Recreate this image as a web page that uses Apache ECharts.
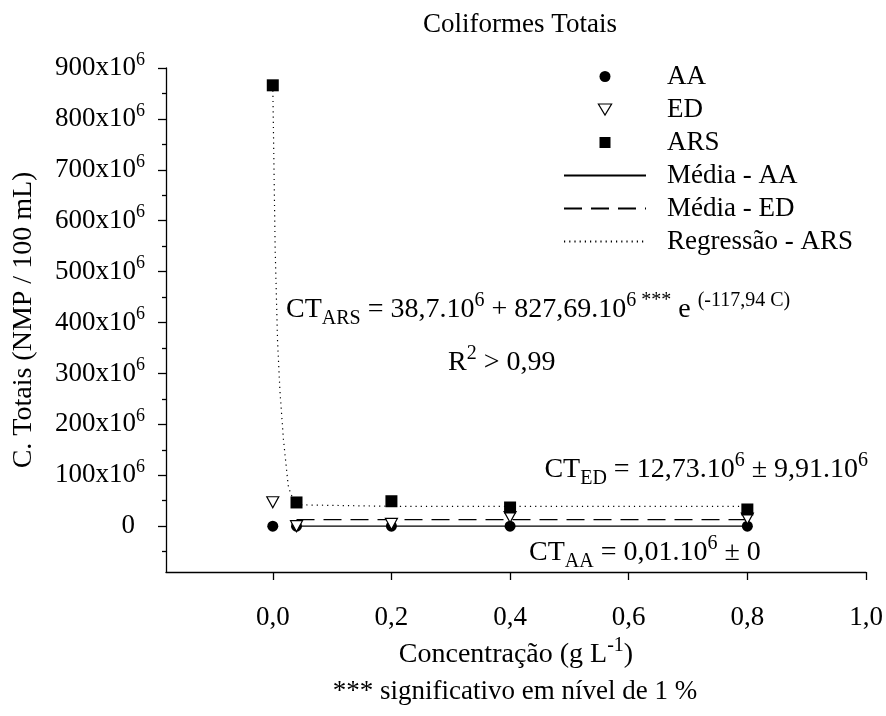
<!DOCTYPE html>
<html>
<head>
<meta charset="utf-8">
<script src="https://cdn.jsdelivr.net/npm/echarts@6/dist/echarts.min.js"></script>
<style>
  html, body { margin: 0; padding: 0; background: #fff; }
  #chart { width: 886px; height: 716px; }
</style>
</head>
<body>
<div id="chart"></div>
<script>
const FONT = '"Liberation Serif", "Times New Roman", serif'

// concentração (g L-1) and counts in 10^6 NMP / 100 mL
const conc = [0, 0.04, 0.2, 0.4, 0.8]
const aa = [0.01, 0.01, 0.01, 0.01, 0.01]
const ed = [47, 0, 4.5, 18, 15]
const ars = [866, 46.6, 49, 36.7, 32.8]

const meanX = [0.04, 0.8]
const meanAA = [0.01, 0.01]
const meanED = [12.73, 12.73]

// regression curve
const regX = [0, 0.004, 0.008, 0.012, 0.018, 0.026, 0.03, 0.04, 0.2, 0.4, 0.8]
const regARS = [866, 545, 365, 267, 170, 80, 64, 42, 39, 39, 39]

const xTicks = [0, 0.2, 0.4, 0.6, 0.8, 1.0]
const yTicks = [0, 100, 200, 300, 400, 500, 600, 700, 800, 900]
const yMinorTicks = [-50, 50, 150, 250, 350, 450, 550, 650, 750, 850]

const pairs = (xs, ys) => xs.map((x, i) => [x, ys[i]])

const rich = {
  m: { fontFamily: FONT, fontSize: 28, lineHeight: 38, verticalAlign: 'middle', color: '#000' },
  t: { fontFamily: FONT, fontSize: 20, lineHeight: 20, verticalAlign: 'top', color: '#000' },
  b: { fontFamily: FONT, fontSize: 20, lineHeight: 20, verticalAlign: 'bottom', color: '#000' }
}

const chart = echarts.init(document.getElementById('chart'))

const lineBase = { color: '#000', width: 1.3 }
const noIcon = { color: 'rgba(0,0,0,0)', borderColor: 'rgba(0,0,0,0)', borderWidth: 0 }

function note(text, x, y, align) {
  return {
    type: 'text',
    x: x,
    y: y,
    z: 10,
    style: {
      text: text,
      rich: rich,
      fill: '#000',
      font: '28px ' + FONT,
      align: align,
      verticalAlign: 'middle'
    }
  }
}

const option = {
  animation: false,
  backgroundColor: '#fff',
  title: {
    text: 'Coliformes Totais',
    left: 515,
    top: 6,
    textAlign: 'center',
    textStyle: { fontFamily: FONT, fontSize: 27, fontWeight: 'normal', color: '#000' }
  },
  legend: {
    orient: 'vertical',
    left: 563,
    top: 63,
    padding: 0,
    itemWidth: 82,
    itemHeight: 11,
    itemGap: 6,
    symbolKeepAspect: true,
    textStyle: { fontFamily: FONT, fontSize: 27, color: '#000', lineHeight: 26, padding: [0, 0, 0, 16] },
    data: [
      { name: 'AA', icon: 'circle', itemStyle: { color: '#000', opacity: 1 } },
      { name: 'ED', icon: 'path://M0,0L12,0L6,10Z', itemStyle: { color: '#fff', borderColor: '#000', borderWidth: 1.2, opacity: 1 } },
      { name: 'ARS', icon: 'path://M0,0L11,0L11,11L0,11Z', itemStyle: { color: '#000', opacity: 1 } },
      { name: 'Média - AA', itemStyle: noIcon },
      { name: 'Média - ED', itemStyle: noIcon },
      { name: 'Regressão - ARS', itemStyle: noIcon }
    ]
  },
  grid: { left: 166, right: 20, top: 68, bottom: 144, containLabel: false, outerBoundsMode: 'none' },
  xAxis: {
    type: 'value',
    min: -0.18,
    max: 1.0,
    name: '{m|Concentração (g L}{t|-1}{m|)}',
    nameLocation: 'middle',
    nameGap: 64,
    nameTextStyle: { rich: rich },
    axisLine: { onZero: false, lineStyle: lineBase },
    axisTick: { customValues: xTicks, length: 8, lineStyle: lineBase },
    axisLabel: {
      customValues: xTicks,
      margin: 32,
      fontFamily: FONT,
      fontSize: 27,
      color: '#000',
      formatter: v => v.toFixed(1).replace('.', ',')
    },
    splitLine: { show: false }
  },
  yAxis: [
    {
      type: 'value',
      min: -90,
      max: 900,
      name: 'C. Totais (NMP / 100 mL)',
      nameLocation: 'middle',
      nameGap: 128,
      nameRotate: 90,
      nameTextStyle: { fontFamily: FONT, fontSize: 28, color: '#000' },
      axisLine: { show: true, onZero: false, lineStyle: lineBase },
      axisTick: { customValues: yTicks, length: 8, lineStyle: lineBase },
      axisLabel: {
        customValues: yTicks,
        margin: 21,
        formatter: v => v === 0 ? '{z|0}' : '{m|' + v + 'x10}{s|6}',
        rich: {
          m: { fontFamily: FONT, fontSize: 27, lineHeight: 34, verticalAlign: 'middle', color: '#000' },
          s: { fontFamily: FONT, fontSize: 18, lineHeight: 18, verticalAlign: 'top', color: '#000' },
          z: { fontFamily: FONT, fontSize: 27, lineHeight: 34, verticalAlign: 'middle', color: '#000', padding: [0, 10, 0, 0] }
        }
      },
      splitLine: { show: false }
    },
    {
      type: 'value',
      min: -90,
      max: 900,
      position: 'left',
      axisLine: { show: false, onZero: false },
      axisTick: { show: true, customValues: yMinorTicks, length: 4, lineStyle: lineBase },
      axisLabel: { show: false },
      splitLine: { show: false }
    }
  ],
  series: [
    {
      name: 'Média - AA', type: 'line', z: 1, symbol: 'none',
      data: pairs(meanX, meanAA),
      lineStyle: { color: '#000', width: 1.3, type: 'solid' },
      itemStyle: { color: '#000' }
    },
    {
      name: 'Média - ED', type: 'line', z: 1, symbol: 'none',
      data: pairs(meanX, meanED),
      lineStyle: { color: '#000', width: 1.3, type: [18, 9] },
      itemStyle: { color: '#000' }
    },
    {
      name: 'Regressão - ARS', type: 'line', z: 1, symbol: 'none',
      data: pairs(regX, regARS),
      lineStyle: { color: '#000', width: 1.2, type: [1.2, 4] },
      itemStyle: { color: '#000' }
    },
    {
      name: 'AA', type: 'scatter', z: 3, symbol: 'circle', symbolSize: 11,
      data: pairs(conc, aa),
      itemStyle: { color: '#000', opacity: 1 }
    },
    {
      name: 'ED', type: 'scatter', z: 3, symbol: 'path://M0,0L12,0L6,11Z', symbolSize: [12, 11],
      data: pairs(conc, ed),
      itemStyle: { color: '#fff', borderColor: '#000', borderWidth: 1.2, opacity: 1 }
    },
    {
      name: 'ARS', type: 'scatter', z: 3, symbol: 'rect', symbolSize: 12,
      data: pairs(conc, ars),
      itemStyle: { color: '#000', opacity: 1 }
    }
  ],
  graphic: [
    note('{m|CT}{b|ARS}{m| = 38,7.10}{t|6}{m| + 827,69.10}{t|6 ***}{m| e }{t|(-117,94 C)}', 286, 310, 'left'),
    note('{m|R}{t|2}{m| > 0,99}', 448, 363, 'left'),
    note('{m|CT}{b|ED}{m| = 12,73.10}{t|6}{m| ± 9,91.10}{t|6}', 868, 470, 'right'),
    note('{m|CT}{b|AA}{m| = 0,01.10}{t|6}{m| ± 0}', 529, 553, 'left'),
    {
      type: 'text',
      x: 515,
      y: 692,
      style: {
        text: '*** significativo em nível de 1 %',
        fill: '#000',
        font: '27px ' + FONT,
        align: 'center',
        verticalAlign: 'middle'
      }
    }
  ]
}

chart.setOption(option)
</script>
</body>
</html>
